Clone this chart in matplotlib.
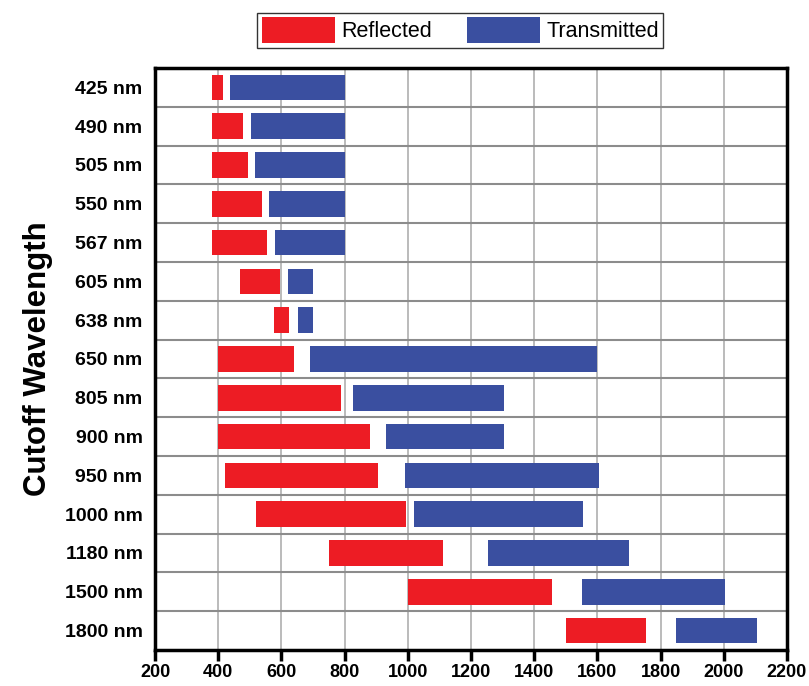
import numpy as np
import matplotlib.pyplot as plt

# Datos
cutoffs = ["425 nm", "490 nm", "505 nm", "550 nm", "567 nm", "605 nm", "638 nm",
           "650 nm", "805 nm", "900 nm", "950 nm", "1000 nm", "1180 nm", "1500 nm", "1800 nm"]
refl_start = [380, 380, 380, 380, 380, 470, 575, 400, 400, 400, 420, 520, 750, 1000, 1500]
refl_end = [415, 480, 495, 540, 555, 595, 624, 640, 790, 880, 905, 995, 1110, 1455, 1755]
trans_start = [436, 505, 518, 562, 580, 620, 651, 690, 825, 930, 990, 1020, 1255, 1550, 1850]
trans_end = [800, 800, 800, 800, 800, 700, 701, 1600, 1305, 1305, 1605, 1555, 1700, 2005, 2105]

red = '#ED1C24'
blue = '#3A4FA0'

plt.rcParams['font.family'] = ['Liberation Sans', 'DejaVu Sans']

fig = plt.figure(figsize=(8.09, 6.86), dpi=100)
ax = fig.add_axes([0.1916, 0.0525, 0.7812, 0.8484])

n = len(cutoffs)
y = np.arange(n)
h = 0.66

rs = np.array(refl_start)
re = np.array(refl_end)
ts = np.array(trans_start)
te = np.array(trans_end)

ax.barh(y, re - rs, left=rs, height=h, color=red, label='Reflected', zorder=3)
ax.barh(y, te - ts, left=ts, height=h, color=blue, label='Transmitted', zorder=3)

ax.set_xlim(200, 2200)
ax.set_ylim(n - 0.5, -0.5)
ax.set_xticks(np.arange(200, 2201, 200))
ax.set_yticks(y)
ax.set_yticklabels(cutoffs, fontsize=14, fontweight='bold')
for lab in ax.get_xticklabels():
    lab.set_fontsize(13)
    lab.set_fontweight('bold')

# Rejilla
for xv in np.arange(400, 2200, 200):
    ax.axvline(xv, color='#b5b5b5', lw=1.3, zorder=1)
for yv in np.arange(0.5, n - 0.5, 1):
    ax.axhline(yv, color='#8c8c8c', lw=1.5, zorder=1)

for s in ax.spines.values():
    s.set_linewidth(2.5)
ax.tick_params(axis='y', length=0, pad=9)
ax.tick_params(axis='x', length=8, width=2.5, pad=2)

ax.set_ylabel('Cutoff Wavelength', fontsize=22.5, fontweight='bold', labelpad=8)

fig.legend(loc='upper center', bbox_to_anchor=(0.569, 0.997), ncol=2, fontsize=15.5,
           frameon=True, fancybox=False, edgecolor='black', handlelength=3.4,
           handleheight=1.5, columnspacing=1.6, borderpad=0.2, handletextpad=0.3)

plt.savefig('out.png', dpi=100)
